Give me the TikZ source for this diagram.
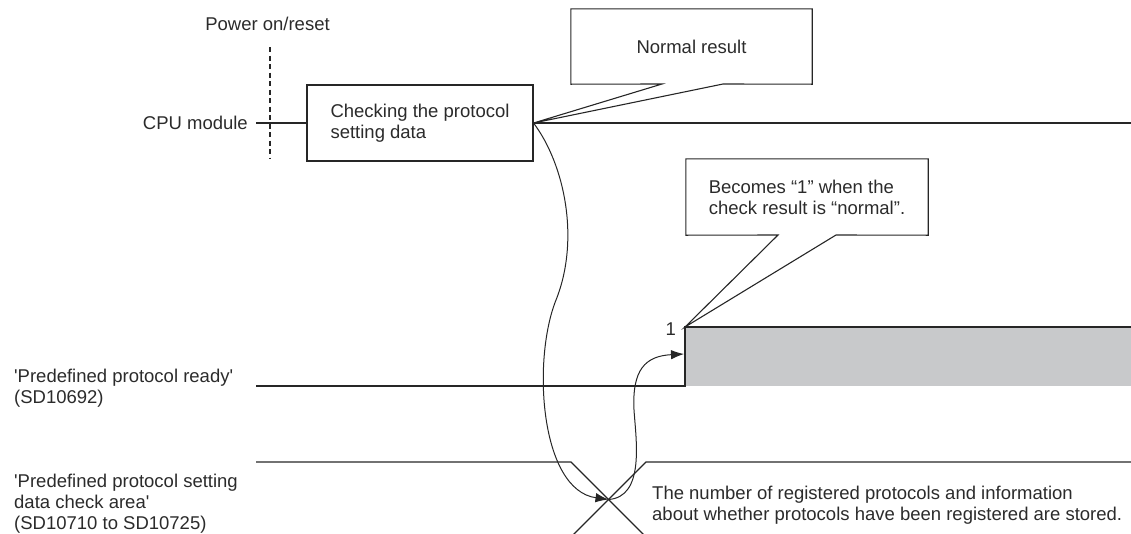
\documentclass[tikz,border=0pt]{standalone}
\usepackage{fontspec}
\setmainfont{Liberation Sans}
\usetikzlibrary{arrows.meta}
\definecolor{ink}{HTML}{262626}
\definecolor{txt}{HTML}{2B2B2B}
\definecolor{hi}{HTML}{C8C9CB}
\begin{document}
\begin{tikzpicture}[x=1pt,y=-1pt,
  font=\fontsize{18.5}{21}\selectfont,
  lbl/.style={inner sep=0pt, text=txt},
  sig/.style={draw=ink, line width=1.1pt},
  databox/.style={draw=ink, line width=1.1pt, fill=white, inner sep=0pt, text=txt, align=left,
    minimum width=226pt, minimum height=76pt},
  calltext/.style={inner sep=0pt, text=txt, align=left},
  arr/.style={draw=ink, line width=1pt, -{Latex[length=13pt,width=9.5pt]}}]
\useasboundingbox (0,0) rectangle (1131,533);
\clip (0,0) rectangle (1131,533);

% power on / reset marker
\node[lbl, anchor=base] (pwr) at (267.5,30.6) {Power on/reset};
\coordinate (dashT) at (270,47);
\coordinate (dashB) at (270,159);
\draw[sig, dash pattern=on 5pt off 3.5pt] (dashT) -- (dashB);

% CPU module line
\node[lbl, anchor=base east] (cpu) at (248,129.6) {CPU module};
\node[databox] (chk) at (420,123) {Checking the protocol\\setting data};
\coordinate (cpuL) at (256,123);
\coordinate (cpuR) at (1131,123);
\draw[sig] (cpuL) -- (chk.west);
\draw[sig] (chk.east) -- (cpuR);

% callout: Normal result
\node[calltext, minimum width=241pt, minimum height=75pt] (nr) at (691.5,46.5) {Normal result};
\coordinate (nrA) at (662,84);
\coordinate (nrB) at (723,84);
\draw[sig, line join=miter] (nrA) -- (nr.south west) -- (nr.north west) -- (nr.north east) -- (nr.south east) -- (nrB) -- (chk.east) -- cycle;

% Predefined protocol ready
\node[lbl, anchor=base west] (rd1) at (14,382) {\textquotesingle Predefined protocol ready\textquotesingle};
\node[lbl, anchor=base west] (rd2) at (14,403) {(SD10692)};
\coordinate (rdL) at (256,386);
\coordinate (stepB) at (685,386);
\coordinate (stepT) at (685,327);
\coordinate (rdR) at (1131,327);
\fill[hi] (stepT) rectangle (1131,386);
\draw[sig] (rdL) -- (stepB) -- (stepT) -- (rdR);
\node[lbl, anchor=base east] (one) at (676,335.5) {1};

% callout: Becomes 1
\node[calltext, minimum width=242pt, minimum height=76pt] (bc) at (807,197) {Becomes “1” when the\\check result is “normal”.};
\coordinate (bcA) at (778,235);
\coordinate (bcB) at (836,235);
\draw[sig, line join=miter] (bcA) -- (bc.south west) -- (bc.north west) -- (bc.north east) -- (bc.south east) -- (bcB) -- (stepT) -- cycle;

% check area
\node[lbl, anchor=base west] (ca1) at (14,487) {\textquotesingle Predefined protocol setting};
\node[lbl, anchor=base west] (ca2) at (14,508) {data check area\textquotesingle};
\node[lbl, anchor=base west] (ca3) at (14,529) {(SD10710 to SD10725)};
\coordinate (caL) at (256,462);
\coordinate (caL2) at (571,462);
\coordinate (caLd) at (653,544);
\coordinate (caR) at (1131,462);
\coordinate (caR2) at (646,462);
\coordinate (caRd) at (564,544);
\coordinate (xing) at (608.5,499.5);
\draw[sig] (caL) -- (caL2) -- (caLd);
\draw[sig] (caR) -- (caR2) -- (caRd);
\node[lbl, anchor=base west] (st1) at (652,499) {The number of registered protocols and information};
\node[lbl, anchor=base west] (st2) at (652,520) {about whether protocols have been registered are stored.};

% arrows
\draw[arr] (chk.east) .. controls (565,165) and (580,240) .. (556,300)
  .. controls (532,360) and (540,490) .. (xing);
\coordinate (tip2) at (684,354);
\draw[arr] (xing) .. controls (645,497) and (636,440) .. (634,410)
  .. controls (632,370) and (645,356) .. (tip2);
\end{tikzpicture}
\end{document}
